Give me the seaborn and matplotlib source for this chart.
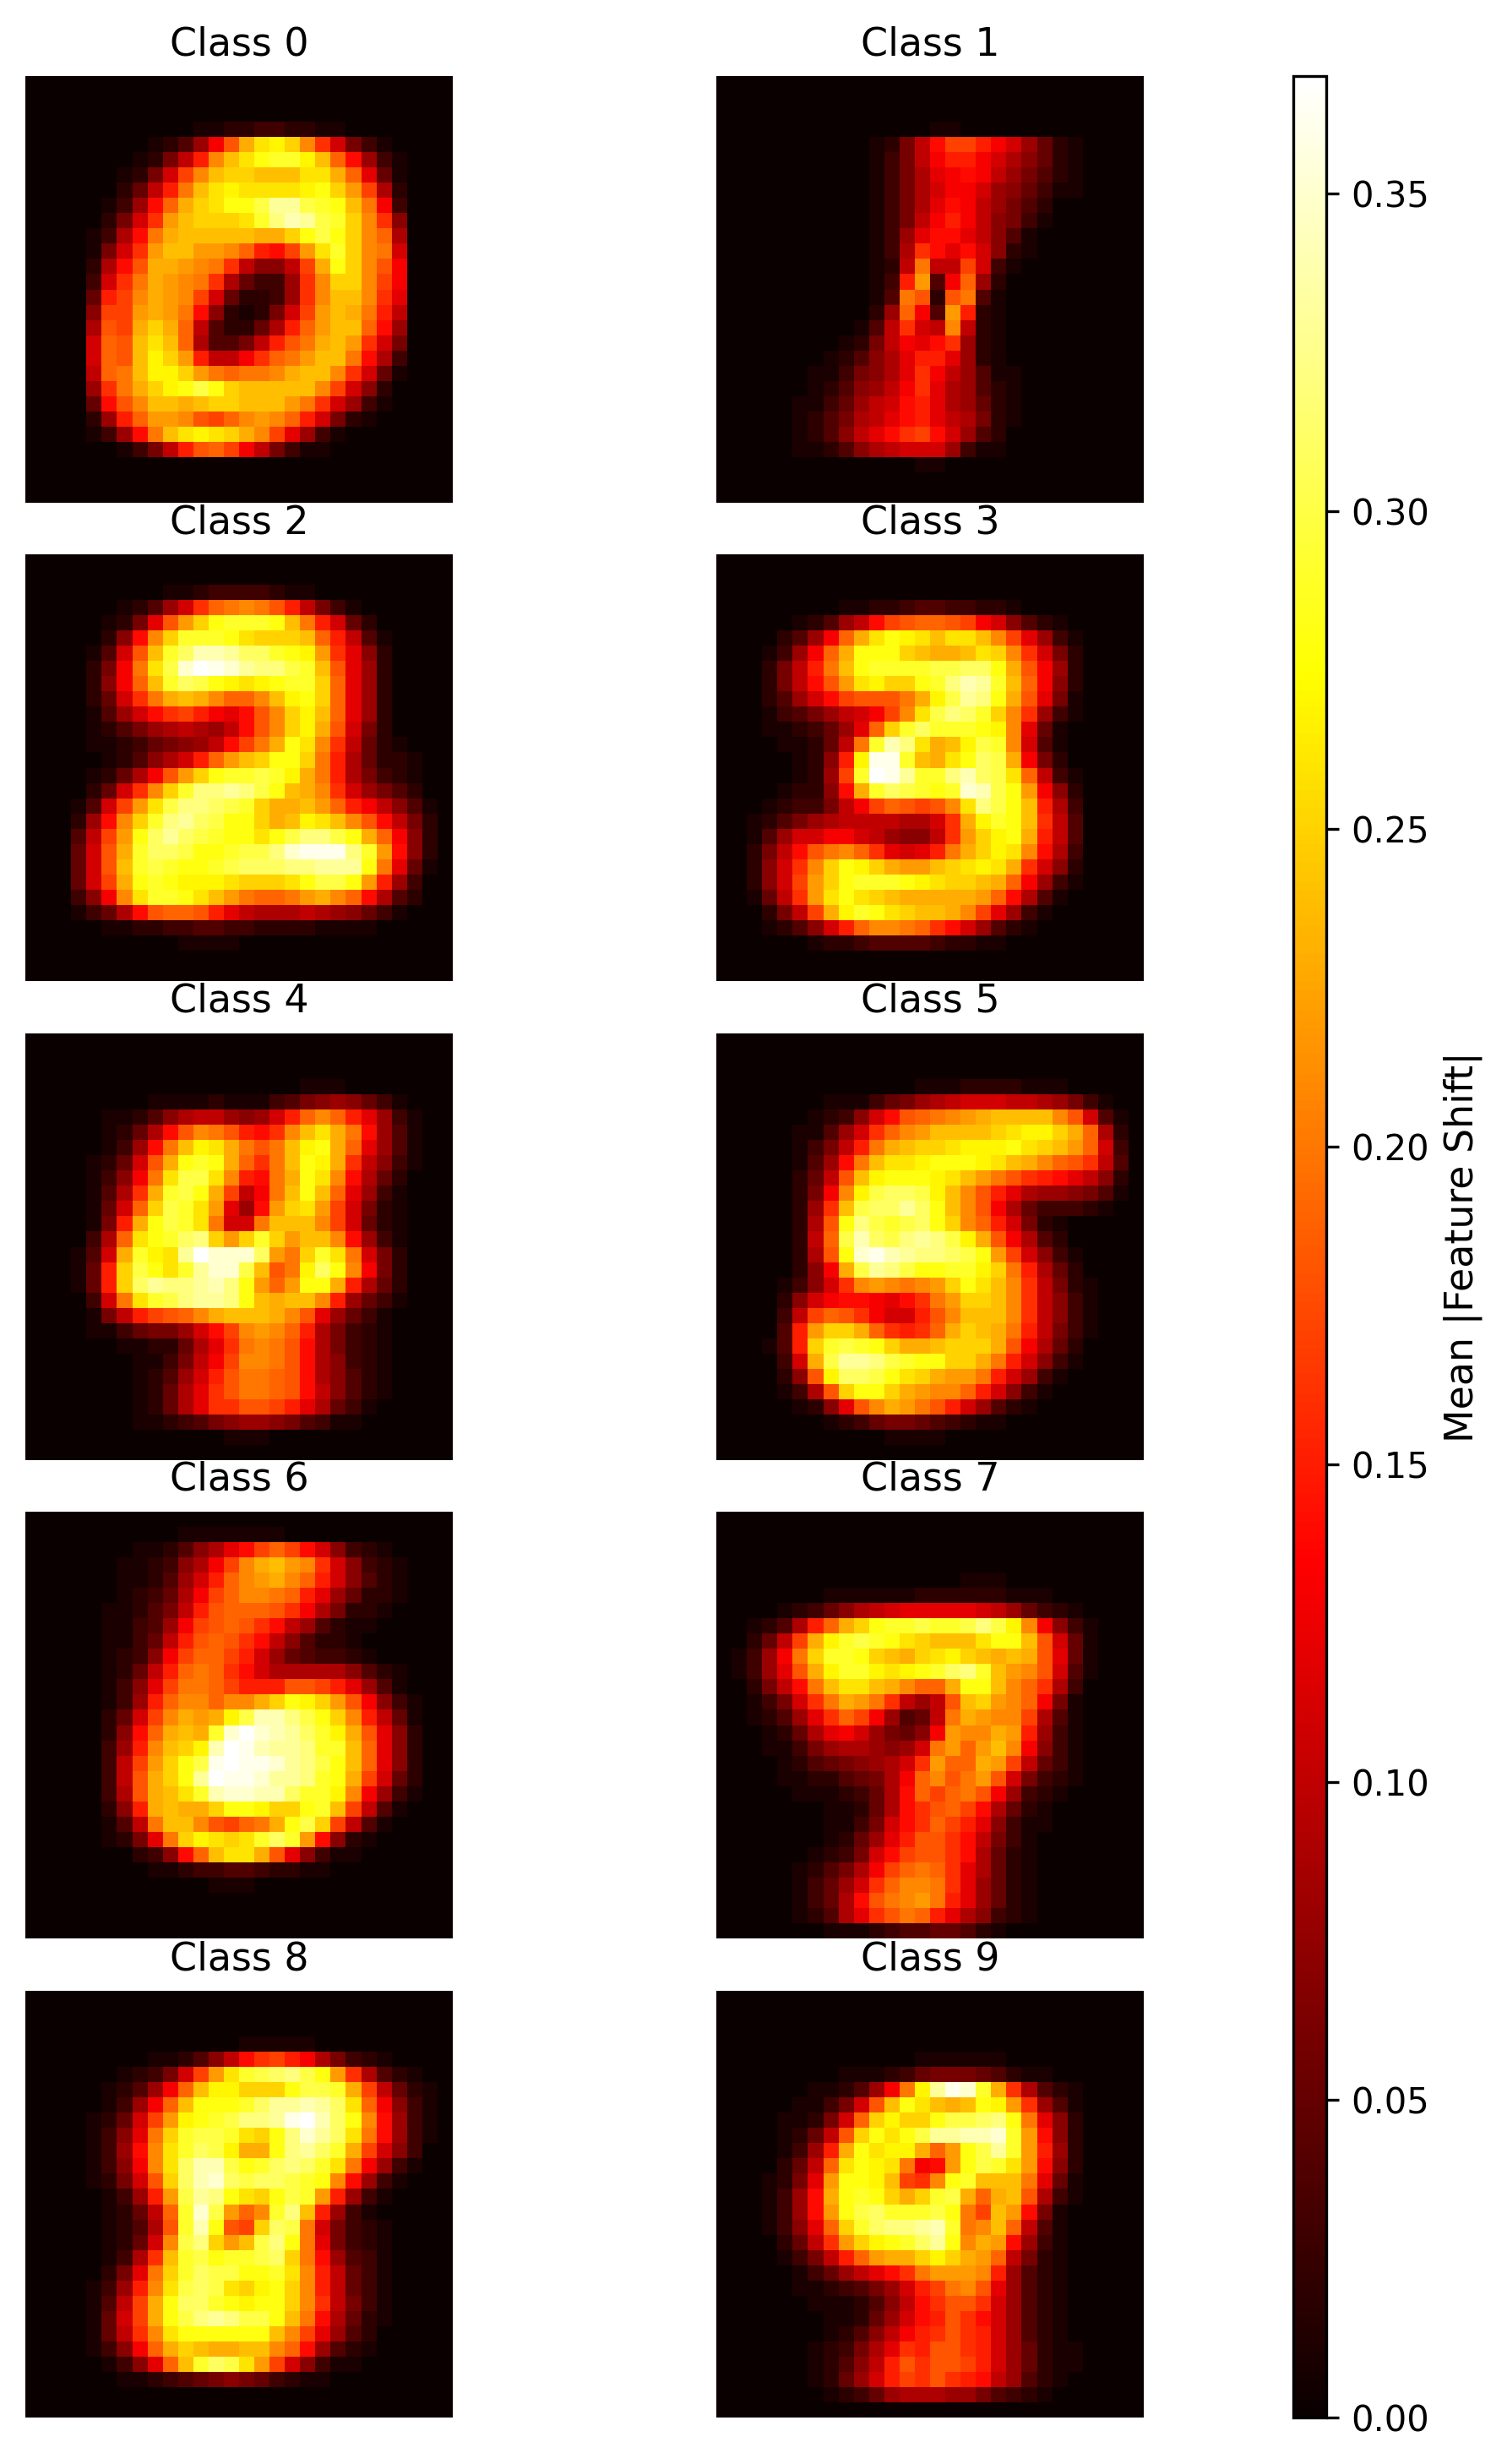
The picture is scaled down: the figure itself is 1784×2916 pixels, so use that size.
import numpy as np
import seaborn as sns
import matplotlib
matplotlib.use("Agg")
import matplotlib.pyplot as plt

# mean shift per pixel, in hundredths
# a row can stop early, what is missing on the right or below is 0
class_0 = [
    [], [], [],
    [0]*11+[1,1,2,2,3,3,2,2,1,1],
    [0]*8+[1,2,4,8,13,18,23,26,27,25,21,16,11,6,3,1],
    [0]*7+[1,2,6,10,15,21,24,26,28,29,29,27,24,19,14,8,3,1],
    [0]*6+[1,2,6,11,17,21,24,25,25,24,24,24,26,26,23,19,12,5,1],
    [0]*5+[0,2,5,10,15,20,24,26,27,26,26,26,26,27,28,25,22,17,9,2],
    [0]*5+[1,3,8,14,19,23,25,26,28,28,30,33,33,30,29,28,24,20,13,3],
    [0]*5+[2,6,11,16,22,24,25,25,25,26,29,32,34,33,30,29,25,21,16,7],
    [0]*4+[1,3,9,14,20,23,24,24,24,24,24,23,23,25,28,30,28,25,21,19,9],
    [0]*4+[1,6,11,16,22,24,24,22,22,21,19,15,14,17,22,26,29,25,21,20,11],
    [0]*4+[2,9,14,18,23,23,22,21,20,16,10,7,7,10,17,23,28,25,21,18,13],
    [0]*4+[3,11,16,20,23,22,21,20,16,9,5,3,3,8,16,21,25,25,21,17,13],
    [0]*4+[5,15,17,21,23,22,21,17,11,5,2,2,3,8,16,21,24,24,21,16,12],
    [0]*4+[7,17,17,22,23,22,20,14,7,2,1,2,6,11,17,22,24,23,20,15,10],
    [0]*4+[9,18,17,23,25,23,19,10,4,2,2,5,9,15,19,22,24,24,19,14,8],
    [0]*4+[11,19,18,24,26,24,19,9,4,4,6,10,15,18,20,23,24,22,16,11,6],
    [0]*4+[11,19,18,24,27,25,22,15,10,10,13,16,19,20,22,24,24,20,14,9,3],
    [0]*4+[10,19,20,24,27,27,25,22,20,19,20,20,21,23,24,24,21,16,11,5,1],
    [0]*4+[8,16,20,23,25,27,28,30,28,25,24,24,24,24,24,21,17,11,7,2],
    [0]*4+[5,14,18,21,24,24,23,24,25,25,24,24,24,22,20,16,11,8,3,1],
    [0]*4+[2,8,15,19,22,22,21,18,17,19,21,22,21,19,15,11,6,2,1],
    [0]*4+[1,3,8,14,20,24,26,27,26,25,23,21,17,12,8,3,1],
    [0]*6+[1,3,6,10,15,18,19,17,13,10,6,3,1,1],
]
class_1 = [
    [], [], [],
    [0]*14+[1,1],
    [0]*10+[1,2,6,10,14,17,17,15,13,11,8,5,2,1],
    [0]*10+[1,3,6,10,13,15,15,13,11,9,7,5,2,1],
    [0]*10+[1,3,6,9,12,13,14,13,10,8,6,4,2,1],
    [0]*10+[1,3,6,9,11,13,13,11,8,7,5,3,1,1],
    [0]*10+[1,3,6,9,12,14,13,10,8,6,4,2],
    [0]*10+[1,3,6,10,13,15,13,10,7,6,3,1],
    [0]*10+[1,3,8,12,14,14,12,10,7,4,1],
    [0]*10+[1,3,9,16,14,12,14,11,7,2,1],
    [0]*10+[1,2,10,20,10,10,17,11,3,1],
    [0]*10+[1,3,15,22,4,13,19,8,2],
    [0]*10+[1,4,20,18,2,18,20,4,1],
    [0]*10+[2,8,19,13,4,22,15,2,1],
    [0]*9+[1,4,10,16,11,10,21,10,2,1],
    [0]*8+[1,2,6,10,13,12,14,16,8,2,1],
    [0]*7+[1,2,4,7,9,12,15,15,12,8,2,1],
    [0]*6+[1,1,3,6,7,9,12,16,13,10,8,4,1,1],
    [0]*6+[1,2,4,7,8,10,13,16,12,9,8,4,2,1],
    [0]*5+[1,1,3,5,8,10,11,14,15,12,9,8,5,2,1],
    [0]*5+[1,2,4,6,9,10,12,14,15,12,10,9,6,2,1],
    [0]*5+[1,2,4,7,10,12,14,16,17,14,11,8,4,2],
    [0]*5+[1,1,2,4,7,9,10,11,11,11,8,3,1,1],
    [0]*13+[1,1],
]
class_2 = [
    [], [],
    [0]*9+[1,1,2,3,3,3,3,2,1,1],
    [0]*6+[1,2,4,8,11,16,19,20,21,20,18,15,10,6,3,1],
    [0]*5+[1,2,6,12,18,22,25,28,29,29,29,28,24,20,15,11,5,2],
    [0]*5+[2,7,14,21,25,29,29,29,28,26,25,25,25,24,19,15,10,4,1],
    [0]*4+[1,4,11,18,24,29,31,34,34,33,31,31,29,28,27,22,16,12,7,2],
    [0]*4+[2,6,13,20,26,30,35,37,36,35,33,32,32,30,29,24,18,12,8,2],
    [0]*4+[2,7,13,19,24,29,31,30,28,27,26,27,28,29,29,25,19,12,8,2],
    [0]*4+[2,5,11,16,20,23,24,23,21,19,19,21,24,27,28,25,19,12,8,2],
    [0]*4+[1,4,8,11,14,16,17,15,13,12,14,18,21,25,27,24,19,12,8,2],
    [0]*4+[1,2,4,6,8,9,10,9,8,10,14,18,21,25,27,23,18,11,6,2],
    [0]*4+[1,1,2,3,5,6,7,8,10,14,17,20,23,28,26,21,16,10,5,2,1],
    [0]*5+[1,2,4,7,9,11,15,19,22,24,25,28,28,25,20,15,9,5,2,2,1],
    [0]*4+[1,2,5,9,13,18,22,25,28,29,29,30,29,27,23,20,15,9,6,3,2,1],
    [0]*4+[2,5,11,16,21,25,29,32,32,33,32,30,28,24,23,21,16,11,8,6,4,2],
    [0]*3+[1,4,11,17,22,26,30,32,32,31,30,29,25,23,23,24,22,19,15,13,10,7,4,1],
    [0]*3+[2,8,14,21,25,29,32,33,31,30,28,28,25,23,24,27,26,24,21,18,14,10,6,2],
    [0]*3+[4,10,17,22,28,31,33,31,30,29,28,28,26,28,30,32,32,30,28,23,19,13,7,2],
    [0]*3+[5,11,18,23,29,31,31,30,28,28,29,30,30,32,35,36,36,36,32,29,22,14,7,2],
    [0]*3+[5,11,18,24,29,30,29,28,28,29,30,31,31,31,32,32,33,33,33,28,20,12,5,1],
    [0]*3+[5,11,17,23,28,29,28,27,27,27,26,25,25,25,26,28,30,30,28,22,15,8,3],
    [0]*3+[3,7,13,21,26,29,29,28,26,24,22,20,19,19,20,22,23,21,19,14,9,4,2],
    [0]*3+[1,3,5,9,14,18,19,19,18,15,12,10,9,9,9,10,9,8,7,5,3,1],
    [0]*5+[1,1,2,2,3,3,4,4,3,3,2,2,2,2,1,1,1,1],
    [0]*10+[1,1,1,1],
]
class_3 = [
    [], [], [],
    [0]*8+[1,1,2,2,3,4,4,3,3,2,2,1],
    [0]*5+[1,2,4,8,10,14,17,18,19,19,18,17,13,11,7,4,2,1],
    [0]*4+[2,4,8,13,19,23,26,28,27,26,24,26,26,24,21,17,12,8,3,1],
    [0]*3+[1,3,8,13,19,23,28,28,28,25,24,23,23,24,26,25,21,16,11,6,2],
    [0]*3+[2,6,10,15,20,24,28,29,29,29,29,30,30,31,31,28,23,18,13,8,2],
    [0]*3+[2,6,10,14,18,22,26,27,25,25,28,29,32,34,33,29,24,19,13,7,2],
    [0]*3+[2,4,8,11,14,17,18,18,18,20,23,27,30,33,32,28,23,18,12,6,1],
    [0]*3+[1,3,4,6,8,10,11,13,17,21,26,30,32,31,29,25,21,16,8,3,1],
    [0]*3+[1,1,2,3,5,8,12,19,25,29,31,29,29,29,28,27,21,12,5,1],
    [0]*4+[1,1,2,5,10,20,29,34,32,26,23,24,27,30,29,21,11,4,1],
    [0]*5+[1,2,7,15,27,36,36,29,24,23,26,28,31,30,23,13,6,2],
    [0]*5+[1,2,8,17,29,37,36,33,29,29,32,34,31,30,26,19,10,3,1],
    [0]*4+[1,2,2,7,14,23,29,31,30,29,28,29,35,34,30,28,22,13,7,2],
    [0]*3+[1,2,3,3,6,10,13,17,19,18,17,18,21,26,32,30,28,24,15,9,3],
    [0]*2+[1,2,4,6,8,9,10,10,10,10,9,9,11,16,23,27,29,28,24,16,10,4],
    [0]*2+[1,4,8,11,11,13,13,11,10,8,7,7,10,16,22,25,27,28,23,15,10,4],
    [0]*2+[2,6,10,14,18,20,21,19,16,12,11,12,15,20,23,25,27,26,21,14,9,3],
    [0]*2+[2,7,11,16,21,25,28,27,25,23,22,22,24,25,26,27,26,23,16,11,7,2],
    [0]*2+[2,7,11,17,22,25,28,29,29,29,28,27,26,25,25,24,23,19,13,8,3,1],
    [0]*2+[1,5,10,16,22,26,28,26,25,24,23,23,23,23,23,22,19,14,9,4,1],
    [0]*3+[2,6,10,17,23,27,29,28,26,25,24,24,23,21,17,12,8,3,1],
    [0]*3+[1,2,4,7,11,15,19,21,21,20,19,16,14,11,8,4,2,1],
    [0]*6+[1,2,2,3,4,4,4,4,3,2,2,1,1],
]
class_4 = [
    [], [], [],
    [0]*18+[1,1,1],
    [0]*8+[1,1,1,1,2,1,1,1,3,4,6,7,8,7,5,3,1],
    [0]*5+[1,1,2,4,7,9,10,10,8,7,8,11,15,19,21,19,15,12,8,3,1],
    [0]*5+[1,2,5,9,14,18,21,20,18,15,14,16,21,24,26,23,20,14,8,4,1],
    [0]*5+[1,3,8,14,20,24,27,26,23,20,18,20,24,27,28,23,19,12,8,4,1],
    [0]*4+[1,2,5,11,18,23,28,29,28,23,19,16,20,24,28,27,23,16,10,7,3,1],
    [0]*4+[1,3,7,13,20,26,30,30,26,21,15,14,20,23,28,26,21,14,9,5,2],
    [0]*4+[1,4,9,16,23,29,30,28,23,17,10,13,20,24,28,24,19,12,8,3,1],
    [0]*4+[1,5,11,19,25,30,29,26,22,12,8,14,22,25,26,22,17,11,6,2,1],
    [0]*4+[1,6,15,23,28,30,29,26,20,11,11,20,24,24,24,21,17,11,5,2,1],
    [0]*4+[3,9,19,26,28,29,31,32,25,22,25,29,25,22,24,24,21,14,8,3,1],
    [0]*3+[1,4,11,23,29,27,26,33,37,35,35,35,31,22,20,25,29,26,20,11,6,2],
    [0]*3+[1,5,15,25,30,28,26,29,33,35,35,30,24,18,20,27,31,28,21,13,6,2],
    [0]*3+[1,5,15,25,31,33,32,32,33,34,32,28,22,19,22,28,28,23,15,9,5,2],
    [0]*4+[3,11,20,26,29,30,32,33,33,32,28,24,23,24,24,21,15,8,5,3,1],
    [0]*4+[1,6,10,15,17,18,19,21,23,24,24,24,23,21,18,12,8,5,3,1],
    [0]*4+[1,1,3,5,6,6,8,11,14,17,21,22,21,19,15,9,6,3,2,1],
    [0]*6+[1,1,2,2,5,9,12,16,20,21,20,18,14,9,6,3,2,1],
    [0]*7+[1,1,3,6,10,13,17,21,21,20,18,14,9,7,3,2,1],
    [0]*7+[1,2,4,8,11,15,18,20,20,19,18,14,9,7,4,2,1],
    [0]*7+[1,2,5,9,12,16,18,20,20,19,18,14,10,7,4,2,1],
    [0]*7+[1,2,5,9,12,16,16,18,18,17,15,12,9,5,3,1],
    [0]*7+[1,1,2,3,4,6,7,8,8,7,6,4,3,1,1],
    [0]*13+[1,1,1],
]
class_5 = [
    [], [], [],
    [0]*13+[1,1,1,2,2,2,2,1,1,1],
    [0]*7+[1,1,1,3,5,6,8,9,10,11,11,11,10,10,9,8,6,3,1],
    [0]*6+[1,2,3,7,11,14,18,19,20,21,22,23,24,24,24,24,21,18,11,4,1],
    [0]*5+[1,1,4,8,11,16,19,21,22,24,24,24,24,25,26,27,27,25,23,19,9,2],
    [0]*5+[1,3,6,10,15,20,23,24,25,25,26,27,27,27,28,26,25,24,22,19,11,3],
    [0]*5+[1,4,8,14,20,24,26,26,27,28,28,28,27,26,24,23,21,19,18,16,10,4],
    [0]*5+[2,5,10,18,24,27,28,28,28,27,26,24,22,20,18,16,15,14,12,10,7,2],
    [0]*5+[2,6,13,21,27,30,31,31,30,27,24,21,18,15,12,9,8,8,7,6,4,1],
    [0]*5+[2,8,16,24,30,31,31,33,31,28,24,21,18,13,9,5,3,3,3,2,1],
    [0]*5+[2,9,18,28,32,30,29,30,31,28,25,21,19,15,11,6,2,1],
    [0]*5+[2,10,19,30,34,31,30,32,33,32,30,27,23,18,13,9,4,2],
    [0]*5+[2,9,18,28,35,36,34,33,32,32,31,30,28,22,17,11,7,3,1],
    [0]*5+[2,7,13,23,30,33,32,30,28,28,29,29,27,25,20,15,9,5,2],
    [0]*4+[1,3,7,11,16,21,22,21,20,21,22,25,28,26,24,21,16,10,6,2,1],
    [0]*4+[2,7,11,13,14,14,13,12,14,16,20,22,25,25,24,21,16,10,7,3,1],
    [0]*4+[3,10,17,19,18,16,13,11,11,15,18,21,24,24,24,21,16,10,7,3,1],
    [0]*4+[4,15,22,25,25,23,19,16,15,16,19,23,25,24,23,20,15,10,6,3,1],
    [0]*3+[1,4,15,25,29,30,29,28,25,23,23,24,25,25,25,23,18,13,9,5,2],
    [0]*4+[3,11,23,30,33,33,32,30,29,28,28,25,25,23,20,15,11,7,3,1],
    [0]*4+[2,7,18,27,31,31,30,28,26,25,23,22,22,20,15,11,8,3,1],
    [0]*4+[1,3,9,18,25,28,28,25,23,22,21,21,19,15,11,7,3,1],
    [0]*5+[1,2,7,12,18,21,23,22,20,18,15,11,8,4,2,1],
    [0]*7+[1,2,3,5,6,6,5,4,3,2,1,1],
    [0]*11+[1,1,1,1],
]
class_6 = [
    [],
    [0]*10+[1,1,1,1,1,1,1],
    [0]*7+[1,1,2,4,7,9,12,14,17,19,17,14,11,7,3,2,1],
    [0]*6+[1,1,2,3,7,9,13,17,21,23,24,22,21,16,11,7,3,2,1],
    [0]*6+[1,1,2,4,8,11,15,19,21,22,23,21,19,15,11,7,4,2,1],
    [0]*6+[1,2,3,5,9,13,17,19,21,21,20,19,15,12,8,5,2,2,1],
    [0]*5+[1,1,2,4,6,10,15,18,19,19,19,18,16,13,9,6,2,2,1],
    [0]*5+[1,1,3,4,8,13,17,18,19,18,16,14,10,8,4,2,1,1],
    [0]*5+[1,1,3,5,10,15,18,19,18,16,14,10,7,4,2,2,1],
    [0]*5+[1,2,3,7,13,17,19,19,17,15,11,8,5,4,3,3,2,1],
    [0]*5+[1,2,5,10,15,19,20,19,16,14,11,9,9,9,9,9,7,4,2,1],
    [0]*5+[1,3,7,12,17,20,20,19,17,15,15,15,18,18,17,15,12,8,4,1],
    [0]*5+[1,3,8,15,19,21,21,19,21,21,23,25,28,27,25,22,18,13,7,3,1],
    [0]*5+[2,5,11,17,21,23,22,23,27,30,34,34,32,30,28,25,21,15,10,5,1],
    [0]*5+[2,7,14,19,23,24,23,29,35,37,35,34,33,31,29,27,23,18,12,7,2],
    [0]*5+[3,8,15,21,24,25,27,34,37,36,34,33,33,32,29,29,24,19,12,7,2],
    [0]*5+[3,10,17,22,25,28,30,36,37,36,36,35,33,32,30,28,24,19,12,7,2],
    [0]*5+[3,10,18,23,25,28,33,37,36,36,35,33,33,32,29,28,23,17,11,5,2],
    [0]*5+[3,9,18,23,24,26,29,34,35,35,34,34,31,29,29,27,21,13,8,3,1],
    [0]*5+[2,7,15,23,24,23,23,25,28,28,27,25,25,28,29,24,17,10,4,1],
    [0]*5+[1,4,10,20,24,24,21,18,17,19,20,23,28,30,25,17,10,4,1],
    [0]*5+[1,2,6,12,20,25,27,26,25,26,29,31,29,22,14,7,2,1],
    [0]*7+[2,3,7,14,19,24,26,26,23,18,12,7,3,1,1],
    [0]*8+[1,1,2,3,3,4,4,3,2,2,1,1],
    [0]*12+[1,1,1],
]
class_7 = [
    [], [], [], [],
    [0]*16+[1,1,1],
    [0]*7+[1,1,1,1,1,1,2,2,2,2,2,2,1,1,1],
    [0]*4+[1,2,3,5,7,9,10,11,12,12,12,12,12,11,10,8,5,3,2,1],
    [0]*2+[1,2,4,9,15,19,23,25,28,29,29,30,29,29,30,32,30,27,21,13,7,3,1],
    [0]*2+[2,5,10,17,23,27,29,30,29,28,26,25,24,24,24,26,28,28,24,18,11,5,1],
    [0]*1+[1,3,8,13,20,25,29,29,28,25,24,23,25,26,27,25,24,23,24,23,18,12,5,1],
    [0]*1+[1,3,8,12,18,23,27,29,29,27,26,27,28,29,31,32,29,24,22,21,18,11,4,1],
    [0]*2+[2,6,10,14,20,24,26,26,24,23,21,19,19,23,28,28,24,21,19,16,9,3],
    [0]*2+[1,3,6,11,16,20,23,22,20,16,10,8,10,18,24,25,22,21,19,13,6,1],
    [0]*2+[1,2,4,8,12,16,19,17,13,8,4,5,10,20,23,22,21,21,17,9,4,1],
    [0]*3+[1,2,5,9,12,13,11,8,6,5,7,13,22,21,21,23,22,15,8,3,1],
    [0]*3+[1,1,3,6,8,9,9,8,7,8,11,20,22,19,22,24,21,13,7,3,1],
    [0]*4+[1,2,4,5,6,7,8,9,11,16,22,19,19,23,22,17,10,5,3,1],
    [0]*4+[1,1,2,2,4,5,6,9,13,19,21,18,20,22,18,11,6,3,2,1],
    [0]*5+[1,1,1,2,3,5,9,14,19,17,19,20,18,13,8,3,2,1],
    [0]*7+[1,1,2,5,9,14,16,18,19,17,14,9,5,2,1],
    [0]*7+[1,1,3,6,11,14,16,19,17,15,12,7,3,1,1],
    [0]*7+[1,2,5,8,12,15,18,18,16,14,10,6,3,1],
    [0]*6+[1,2,3,6,11,14,17,18,18,16,14,9,5,2,1],
    [0]*5+[1,2,4,6,9,13,17,19,20,19,16,12,9,5,2,1],
    [0]*5+[1,3,5,8,11,16,19,21,21,20,16,12,8,5,2,1],
    [0]*5+[1,3,5,9,14,18,20,21,22,20,15,12,8,5,2,1],
    [0]*5+[1,2,4,9,12,16,18,20,19,15,12,9,7,3,2,1],
    [0]*7+[1,1,1,2,3,4,4,5,5,4,2,1],
]
class_8 = [
    [], [], [],
    [0]*14+[1,1,1,1,1],
    [0]*8+[1,1,2,4,7,10,14,16,17,15,13,9,6,3,2,1],
    [0]*6+[1,2,3,6,11,17,22,26,29,30,31,32,30,28,22,16,9,4,2,1],
    [0]*5+[1,2,4,8,13,19,24,27,27,25,25,25,28,30,30,29,23,17,10,5,2,1],
    [0]*5+[1,3,8,13,19,24,28,28,28,29,31,33,33,34,33,31,26,19,13,7,3,1],
    [0]*4+[1,2,5,11,17,22,27,28,29,30,32,32,33,36,37,34,31,28,21,14,8,3,1],
    [0]*4+[1,3,7,12,20,25,29,30,30,29,26,25,28,32,35,33,31,26,20,14,8,3,1],
    [0]*4+[1,3,8,14,21,26,29,31,30,27,23,23,28,32,33,31,29,23,17,11,7,3],
    [0]*4+[1,3,7,13,21,26,31,34,34,30,28,29,31,32,31,29,26,20,13,8,3,1],
    [0]*4+[1,2,6,11,18,25,31,34,35,31,30,31,31,30,29,28,21,14,8,3,1],
    [0]*5+[1,3,8,15,22,30,33,32,28,26,25,28,30,29,22,15,8,3,1],
    [0]*5+[1,2,5,10,19,29,35,30,22,19,21,29,32,24,15,8,3,1],
    [0]*5+[1,2,4,9,18,29,34,28,18,17,25,31,30,20,11,6,3,2,1],
    [0]*5+[1,2,5,11,21,30,32,25,22,24,30,32,28,20,12,6,3,2,1],
    [0]*5+[1,3,9,16,24,29,30,28,29,29,30,31,25,20,14,8,4,3,1],
    [0]*5+[2,6,12,20,25,29,31,30,30,28,28,29,26,21,15,10,5,3,1],
    [0]*4+[1,3,8,15,21,26,30,31,30,26,25,27,28,25,21,15,10,5,3,1],
    [0]*4+[1,4,10,17,23,28,31,31,29,28,27,28,28,25,21,16,10,6,3,1],
    [0]*4+[1,5,11,17,23,28,30,32,33,32,30,30,28,24,20,14,9,5,2,1],
    [0]*4+[1,5,10,16,21,26,28,28,28,28,28,28,24,21,17,12,8,4,2],
    [0]*4+[1,3,7,13,19,23,25,24,23,23,24,24,21,19,14,8,4,2,1],
    [0]*5+[1,3,7,12,19,24,29,31,30,26,22,17,11,7,3,1,1],
    [0]*6+[1,1,2,3,4,5,6,7,6,5,3,2,1,1],
]
class_9 = [
    [], [], [], [],
    [0]*13+[1,1,1,1,1,1],
    [0]*8+[1,1,1,2,3,5,6,6,6,5,4,2,1,1],
    [0]*6+[1,1,2,4,8,13,20,27,33,36,35,29,23,16,9,4,2,1],
    [0]*5+[1,1,3,6,11,18,24,28,26,24,23,24,28,27,22,16,8,4,1],
    [0]*4+[1,1,2,6,11,19,25,27,25,25,28,30,30,31,32,28,20,12,7,2],
    [0]*4+[1,2,5,10,18,25,28,26,28,30,33,33,34,34,35,29,22,14,7,2],
    [0]*4+[1,3,8,15,23,28,26,27,27,23,19,22,28,30,33,29,22,15,8,2],
    [0]*4+[2,5,10,19,26,28,27,26,20,13,14,22,28,30,29,26,22,14,7,2],
    [0]*3+[1,2,6,12,22,28,28,27,24,17,16,21,28,29,24,24,24,20,12,5,1],
    [0]*3+[1,3,8,14,23,28,29,28,25,23,25,29,30,23,19,23,24,18,9,3,1],
    [0]*3+[1,3,8,14,22,28,30,31,29,29,29,30,28,20,17,24,22,14,6,1],
    [0]*3+[1,3,7,12,19,25,29,31,32,32,33,34,29,20,21,24,19,10,4,1],
    [0]*4+[2,5,10,16,22,25,27,28,29,31,33,28,21,23,22,14,8,3,1],
    [0]*4+[1,3,6,10,15,19,22,23,23,25,27,25,23,22,19,10,6,2,1],
    [0]*5+[1,3,5,8,10,12,14,16,20,22,22,22,21,15,8,4,2,1],
    [0]*5+[1,1,2,3,4,6,8,11,15,17,20,21,18,12,8,4,2,1],
    [0]*6+[1,1,1,2,4,7,10,14,16,18,18,16,11,8,4,2,1],
    [0]*7+[1,1,2,5,8,11,14,15,18,16,14,11,8,4,2,1],
    [0]*7+[1,2,4,7,10,13,15,16,18,16,15,11,8,4,2,1],
    [0]*6+[1,2,3,6,9,12,16,15,18,18,16,15,11,8,5,2,1,1],
    [0]*6+[1,2,4,7,10,15,18,16,18,18,17,15,11,8,5,2,1,1],
    [0]*6+[1,2,5,8,11,15,17,16,18,16,15,14,10,8,4,2,1],
    [0]*7+[1,2,3,5,8,9,9,9,8,8,6,4,3,2,1],
]
all_classes = [class_0, class_1, class_2, class_3, class_4,
               class_5, class_6, class_7, class_8, class_9]
class_names = [f"Class {i}" for i in range(10)]

vmax = 0.3685
W, H = 1784, 2916


def to_grid(rows):
    grid = np.zeros((28, 28))
    for r, row in enumerate(rows):
        grid[r, :len(row)] = row
    return grid / 100


def box(x0, y0, x1, y1):
    return [x0 / W, 1 - y1 / H, (x1 - x0) / W, (y1 - y0) / H]


fig = plt.figure(figsize=(W / 300, H / 300), dpi=300)
cax = fig.add_axes(box(1531, 90, 1570, 2861))

lefts = [30, 848]
tops = [90, 656, 1223, 1789, 2356]
for i, rows in enumerate(all_classes):
    x0 = lefts[i % 2]
    y0 = tops[i // 2]
    ax = fig.add_axes(box(x0, y0, x0 + 506, y0 + 505))
    sns.heatmap(to_grid(rows), ax=ax, cmap="hot", vmin=0, vmax=vmax,
                xticklabels=False, yticklabels=False,
                cbar=i == 0, cbar_ax=cax if i == 0 else None,
                cbar_kws={"label": "Mean |Feature Shift|"})
    ax.set_title(class_names[i], fontsize=11)
    ax.axis("off")

cb = fig.axes[1].collections[0].colorbar
cb.outline.set_linewidth(0.8)
cb.outline.set_edgecolor("black")
cb.set_ticks([0, 0.05, 0.10, 0.15, 0.20, 0.25, 0.30, 0.35])
cb.ax.tick_params(labelsize=10, length=3.5, width=0.8)
cb.ax.yaxis.label.set_size(11)

fig.savefig("out.png", dpi=300)
